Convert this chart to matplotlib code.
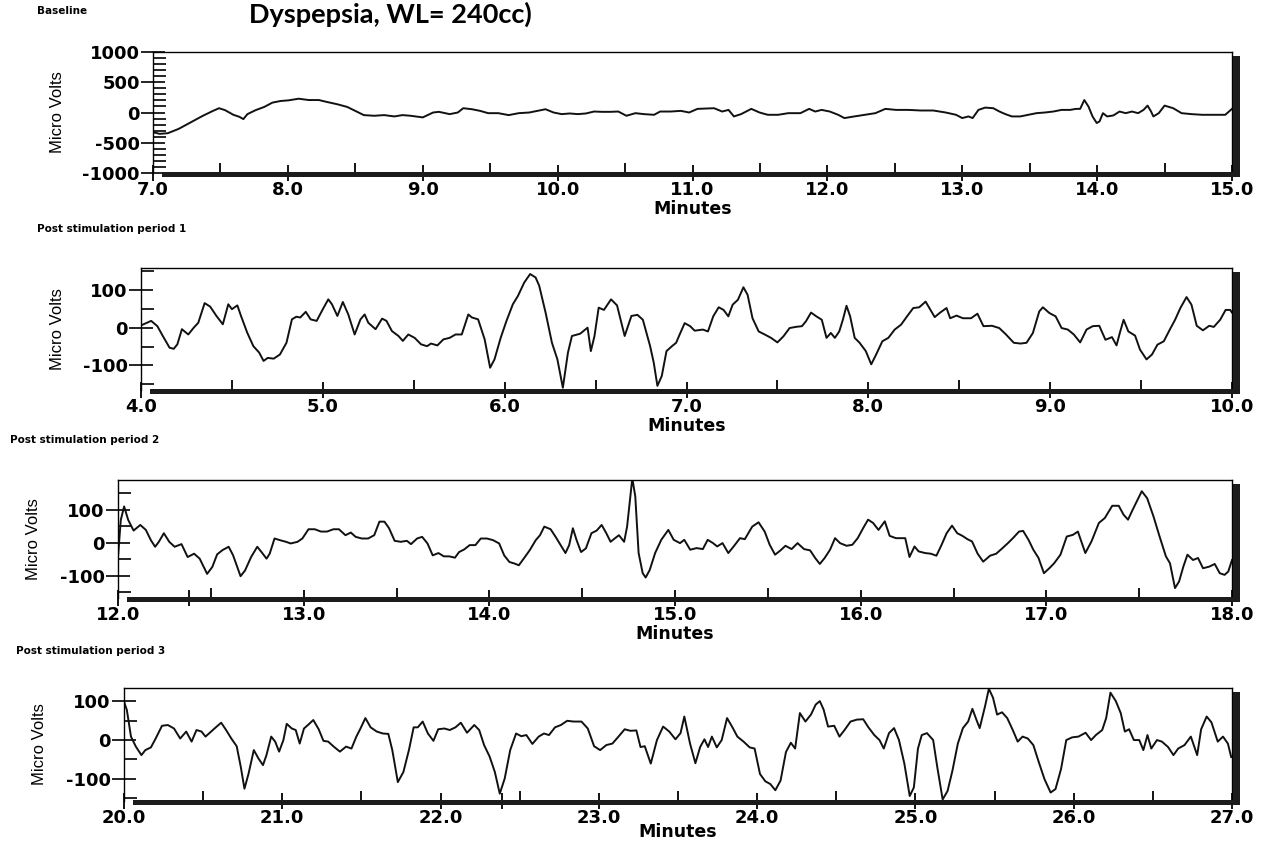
import matplotlib
matplotlib.use('Agg')
import matplotlib.pyplot as plt
from matplotlib.patches import Rectangle
from matplotlib.ticker import FixedLocator, FuncFormatter

matplotlib.rcParams['axes.unicode_minus'] = False
matplotlib.rcParams['font.family'] = ['DejaVu Sans']
matplotlib.rcParams['font.weight'] = 'bold'

LARGEUR, HAUTEUR = 1267, 841

# ============================================================
# DONNEES : (minutes, micro volts) relues sur la figure
# ============================================================
BASELINE = [
    (7.0, -326), (7.05, -353), (7.11, -342), (7.19, -271), (7.28, -163), (7.37, -54), (7.445, 27), (7.49, 71),
    (7.535, 38), (7.596, -38), (7.64, -71), (7.67, -109), (7.70, -27), (7.76, 38), (7.825, 92), (7.885, 163),
    (7.945, 190), (8.005, 201), (8.08, 228), (8.155, 206), (8.23, 206), (8.29, 174), (8.367, 136), (8.44, 92),
    (8.5, 27), (8.563, -43), (8.64, -54), (8.714, -43), (8.79, -65), (8.85, -43), (8.91, -54), (9.0, -81),
    (9.077, 0), (9.12, 11), (9.2, -27), (9.26, 0), (9.30, 71), (9.365, 54), (9.425, 27), (9.485, -11),
    (9.56, -11), (9.637, -43), (9.712, -11), (9.79, 0), (9.85, 27), (9.91, 54), (9.97, 0), (10.03, -27),
    (10.09, -16), (10.15, -27), (10.21, -16), (10.27, 16), (10.33, 11), (10.39, 11), (10.45, 16), (10.51, -54),
    (10.577, -11), (10.64, -27), (10.715, -38), (10.76, 16), (10.837, 16), (10.914, 27), (10.975, 0), (11.037, 60),
    (11.16, 71), (11.22, 16), (11.267, 43), (11.307, -65), (11.36, -27), (11.436, 60), (11.497, 0), (11.558, -38),
    (11.635, -38), (11.71, -11), (11.8, -11), (11.865, 60), (11.91, 16), (11.957, 43), (12.018, 16), (12.08, -38),
    (12.126, -92), (12.2, -65), (12.28, -38), (12.356, -11), (12.43, 60), (12.51, 43), (12.6, 43), (12.693, 33),
    (12.785, 33), (12.877, 0), (12.954, -38), (13.0, -92), (13.046, -65), (13.077, -92), (13.12, 43), (13.17, 81),
    (13.23, 71), (13.276, 16), (13.32, -27), (13.368, -65), (13.43, -65), (13.49, -38), (13.55, -11), (13.613, 0),
    (13.675, 16), (13.736, 43), (13.8, 43), (13.843, 60), (13.874, 60), (13.905, 206), (13.936, 98), (13.966, -65),
    (13.997, -174), (14.018, -147), (14.043, -11), (14.074, -65), (14.12, -49), (14.166, 16), (14.212, -11),
    (14.258, 16), (14.304, -11), (14.344, 43), (14.374, 114), (14.4, 16), (14.417, -65), (14.457, -11), (14.5, 114),
    (14.564, 71), (14.626, -11), (14.7, -27), (14.78, -38), (14.87, -38), (14.95, -38), (15.0, 60),
]

PERIODE_1 = [
    (4.0, 6), (4.056, 18), (4.09, 4), (4.12, -22), (4.157, -53), (4.18, -56), (4.20, -44), (4.225, -4),
    (4.247, -13), (4.26, -18), (4.29, 0), (4.315, 13), (4.35, 65), (4.38, 56), (4.415, 31), (4.45, 9),
    (4.48, 62), (4.50, 49), (4.53, 59), (4.55, 31), (4.584, -13), (4.618, -49), (4.65, -66), (4.674, -88),
    (4.697, -80), (4.73, -82), (4.764, -71), (4.80, -40), (4.83, 22), (4.854, 29), (4.876, 27), (4.906, 42),
    (4.933, 22), (4.966, 18), (5.0, 49), (5.03, 75), (5.05, 62), (5.08, 31), (5.11, 68), (5.14, 35),
    (5.175, -18), (5.207, 22), (5.23, 35), (5.25, 13), (5.29, -4), (5.326, 24), (5.35, 18), (5.38, -9),
    (5.416, -22), (5.44, -35), (5.47, -18), (5.505, -27), (5.54, -44), (5.573, -49), (5.595, -42), (5.63, -47),
    (5.663, -31), (5.697, -27), (5.73, -18), (5.764, -18), (5.80, 35), (5.82, 27), (5.854, 22), (5.89, -31),
    (5.92, -106), (5.944, -84), (5.978, -27), (6.01, 18), (6.045, 62), (6.073, 84), (6.107, 119), (6.14, 142),
    (6.17, 133), (6.19, 111), (6.225, 40), (6.26, -40), (6.29, -84), (6.32, -159), (6.348, -66), (6.37, -22),
    (6.415, -16), (6.456, 0), (6.474, -62), (6.494, -22), (6.517, 53), (6.546, 47), (6.585, 75), (6.618, 59),
    (6.66, -22), (6.697, 31), (6.73, 34), (6.76, 21), (6.80, -49), (6.82, -93), (6.84, -154), (6.864, -128),
    (6.89, -62), (6.92, -49), (6.943, -40), (6.966, -14), (6.99, 12), (7.02, 4), (7.045, -8), (7.09, -5),
    (7.118, -10), (7.147, 30), (7.177, 54), (7.204, 47), (7.23, 30), (7.254, 61), (7.283, 74), (7.313, 107),
    (7.336, 87), (7.363, 25), (7.397, -10), (7.43, -18), (7.465, -27), (7.50, -39), (7.533, -23), (7.567, -1),
    (7.60, 2), (7.635, 4), (7.657, 17), (7.685, 40), (7.714, 30), (7.744, 21), (7.77, -27), (7.794, -14),
    (7.816, -27), (7.84, -10), (7.86, 21), (7.88, 58), (7.90, 30), (7.925, -27), (7.952, -40), (7.986, -62),
    (8.016, -97), (8.043, -71), (8.077, -36), (8.11, -27), (8.145, -5), (8.18, 8), (8.213, 30), (8.247, 52),
    (8.28, 54), (8.315, 69), (8.342, 47), (8.365, 28), (8.395, 40), (8.43, 52), (8.45, 25), (8.485, 32),
    (8.52, 25), (8.565, 25), (8.6, 37), (8.633, 4), (8.68, 5), (8.72, -1), (8.757, -18), (8.80, -40),
    (8.837, -42), (8.87, -40), (8.905, -14), (8.94, 43), (8.96, 54), (8.995, 39), (9.03, 30), (9.063, -1),
    (9.097, -5), (9.13, -18), (9.165, -39), (9.2, -5), (9.234, 4), (9.27, 5), (9.304, -32), (9.34, -25),
    (9.365, -47), (9.383, -14), (9.404, 21), (9.43, -10), (9.467, -21), (9.494, -58), (9.53, -84), (9.56, -71),
    (9.59, -45), (9.625, -36), (9.658, -5), (9.687, 21), (9.716, 52), (9.75, 81), (9.777, 61), (9.806, 5),
    (9.84, -7), (9.875, 5), (9.9, 2), (9.935, 21), (9.965, 47), (9.99, 47), (10.0, 40),
]

PERIODE_2 = [
    (12.0, -43), (12.015, 69), (12.033, 110), (12.055, 69), (12.084, 37), (12.12, 54), (12.15, 39), (12.177, 8),
    (12.2, -12), (12.22, 3), (12.247, 29), (12.276, 3), (12.305, -12), (12.342, -4), (12.375, -43), (12.41, -33),
    (12.44, -48), (12.48, -94), (12.508, -73), (12.534, -35), (12.563, -22), (12.596, -12), (12.62, -38),
    (12.66, -101), (12.684, -84), (12.717, -43), (12.75, -12), (12.773, -28), (12.8, -48), (12.817, -33),
    (12.843, 13), (12.872, 8), (12.905, 3), (12.93, -2), (12.967, 3), (12.993, 13), (13.026, 41), (13.06, 41),
    (13.093, 34), (13.126, 34), (13.16, 41), (13.19, 41), (13.225, 23), (13.254, 31), (13.28, 18), (13.313, 13),
    (13.347, 13), (13.38, 23), (13.408, 64), (13.435, 64), (13.46, 44), (13.49, 6), (13.523, 3), (13.556, 6),
    (13.578, -4), (13.611, 13), (13.638, 18), (13.667, -2), (13.695, -38), (13.726, -31), (13.755, -41),
    (13.784, -41), (13.815, -45), (13.837, -28), (13.865, -20), (13.894, -7), (13.925, -7), (13.954, 13),
    (13.987, 13), (14.02, 8), (14.053, -2), (14.08, -38), (14.108, -58), (14.137, -63), (14.159, -68),
    (14.185, -48), (14.218, -22), (14.25, 8), (14.273, 23), (14.296, 49), (14.33, 41), (14.357, 18),
    (14.384, -7), (14.41, -31), (14.43, -7), (14.45, 44), (14.47, 8), (14.494, -28), (14.52, -17), (14.55, 29),
    (14.578, 37), (14.605, 54), (14.63, 29), (14.653, 3), (14.675, 13), (14.698, 23), (14.726, 3), (14.742, 49),
    (14.76, 141), (14.77, 195), (14.786, 141), (14.804, -31), (14.826, -92), (14.842, -105), (14.864, -82),
    (14.893, -31), (14.926, 9), (14.964, 39), (14.993, 9), (15.027, -1), (15.05, 9), (15.082, -21),
    (15.116, -16), (15.15, -19), (15.176, 9), (15.205, -1), (15.227, -11), (15.256, -1), (15.287, -31),
    (15.316, -11), (15.35, 14), (15.376, 11), (15.416, 49), (15.45, 62), (15.483, 34), (15.51, -6),
    (15.539, -36), (15.568, -23), (15.595, -9), (15.628, -19), (15.66, -1), (15.695, -19), (15.728, -23),
    (15.755, -46), (15.78, -64), (15.806, -46), (15.835, -21), (15.862, 14), (15.889, -1), (15.924, -9),
    (15.955, -6), (15.984, 14), (16.013, 44), (16.04, 70), (16.067, 60), (16.096, 39), (16.13, 65),
    (16.156, 21), (16.19, 14), (16.24, 14), (16.263, -43), (16.29, -11), (16.312, -26), (16.347, -31),
    (16.378, -33), (16.408, -39), (16.436, -6), (16.463, 29), (16.492, 52), (16.52, 29), (16.548, 21),
    (16.575, 11), (16.6, 4), (16.63, -33), (16.66, -57), (16.697, -39), (16.73, -33), (16.764, -16),
    (16.793, -1), (16.82, 14), (16.853, 34), (16.875, 36), (16.904, 9), (16.93, -21), (16.958, -46),
    (16.987, -92), (17.016, -77), (17.042, -62), (17.076, -36), (17.11, 19), (17.143, 24), (17.17, 34),
    (17.21, -31), (17.243, 4), (17.283, 60), (17.315, 75), (17.355, 112), (17.39, 112), (17.416, 85),
    (17.44, 70), (17.465, 100), (17.514, 156), (17.543, 135), (17.577, 80), (17.61, 19), (17.644, -41),
    (17.666, -62), (17.693, -137), (17.715, -117), (17.738, -72), (17.76, -36), (17.79, -52), (17.817, -46),
    (17.844, -77), (17.878, -72), (17.907, -64), (17.934, -92), (17.96, -97), (17.98, -87), (18.0, -52),
]

PERIODE_3 = [
    (20.0, 100), (20.018, 78), (20.044, 9), (20.075, -17), (20.11, -39), (20.135, -26), (20.17, -19), (20.2, 4),
    (20.24, 37), (20.277, 39), (20.316, 30), (20.355, 4), (20.393, 22), (20.427, -4), (20.458, 26), (20.49, 22),
    (20.515, 9), (20.55, 22), (20.58, 33), (20.614, 45), (20.645, 26), (20.678, 4), (20.712, -16), (20.738, -70),
    (20.761, -126), (20.787, -87), (20.82, -26), (20.85, -48), (20.878, -65), (20.9, -39), (20.93, 9),
    (20.955, -4), (20.98, -30), (21.007, 0), (21.028, 42), (21.06, 30), (21.085, 26), (21.11, -9), (21.137, 30),
    (21.162, 39), (21.196, 52), (21.23, 28), (21.26, -2), (21.29, -4), (21.325, -17), (21.364, -30),
    (21.403, -17), (21.437, -22), (21.468, 9), (21.494, 30), (21.525, 57), (21.558, 33), (21.597, 22),
    (21.636, 17), (21.67, 16), (21.695, -26), (21.73, -109), (21.765, -83), (21.8, -26), (21.83, 33),
    (21.856, 33), (21.887, 48), (21.92, 17), (21.955, -2), (21.985, 28), (22.024, 30), (22.058, 26),
    (22.094, 33), (22.128, 45), (22.167, 19), (22.213, 39), (22.244, 26), (22.275, -13), (22.31, -43),
    (22.343, -83), (22.374, -139), (22.405, -100), (22.44, -26), (22.477, 17), (22.51, 10), (22.542, 13),
    (22.58, -10), (22.62, 9), (22.653, 17), (22.685, 13), (22.723, 33), (22.76, 39), (22.8, 50), (22.84, 48),
    (22.89, 48), (22.93, 30), (22.97, -16), (23.008, -26), (23.047, -13), (23.086, -9), (23.124, 9),
    (23.163, 28), (23.2, 24), (23.237, 25), (23.263, -18), (23.29, -16), (23.328, -61), (23.367, 0),
    (23.406, 35), (23.445, 22), (23.484, 2), (23.516, 18), (23.54, 61), (23.576, -9), (23.61, -60),
    (23.64, -18), (23.667, 2), (23.69, -18), (23.714, 9), (23.745, -19), (23.776, 0), (23.81, 57),
    (23.844, 33), (23.875, 9), (23.914, -4), (23.953, -19), (23.984, -22), (24.018, -88), (24.052, -107),
    (24.083, -114), (24.115, -130), (24.148, -105), (24.182, -31), (24.213, -7), (24.24, -22), (24.27, 70),
    (24.305, 48), (24.34, 66), (24.37, 92), (24.396, 101), (24.42, 79), (24.448, 35), (24.487, 37), (24.52, 9),
    (24.552, 26), (24.59, 48), (24.63, 53), (24.67, 54), (24.703, 33), (24.74, 13), (24.773, 0), (24.8, -22),
    (24.833, 18), (24.865, 31), (24.896, 0), (24.93, -61), (24.964, -145), (24.99, -123), (25.016, -22),
    (25.04, 13), (25.073, 18), (25.112, 0), (25.138, -70), (25.172, -154), (25.203, -132), (25.234, -79),
    (25.268, -9), (25.3, 31), (25.333, 48), (25.36, 81), (25.385, 53), (25.406, 31), (25.44, 88),
    (25.464, 133), (25.49, 110), (25.516, 66), (25.547, 72), (25.58, 57), (25.615, 26), (25.646, -4),
    (25.677, 9), (25.71, 4), (25.745, -13), (25.776, -53), (25.815, -101), (25.854, -136), (25.885, -127),
    (25.92, -75), (25.953, 0), (25.99, 7), (26.03, 9), (26.075, 19), (26.11, 0), (26.14, 13), (26.18, 26),
    (26.205, 57), (26.232, 123), (26.266, 101), (26.297, 70), (26.323, 22), (26.35, 28), (26.38, 0),
    (26.414, 0), (26.44, -26), (26.466, 13), (26.49, -22), (26.526, 0), (26.557, -4), (26.596, -18),
    (26.63, -39), (26.66, -22), (26.7, -13), (26.74, 9), (26.78, -39), (26.805, 28), (26.84, 61), (26.87, 46),
    (26.91, -4), (26.943, 9), (26.974, -9), (26.995, -44),
]

TITRE = "Dyspepsia, WL= 240cc)"
SOUS_TITRES = ["Baseline", "Post stimulation period 1", "Post stimulation period 2", "Post stimulation period 3"]


def format_minutes(v, pos):
    # seules les minutes entieres portent une etiquette
    if abs(v - round(v)) < 1e-6:
        return f'{v:.1f}'
    return ''


def ombre(fig, ax):
    """Barres epaisses en bas et a droite du cadre."""
    b = ax.get_position()
    px, py = 1 / LARGEUR, 1 / HAUTEUR
    fig.add_artist(Rectangle((b.x0 + 9 * px, b.y0 - 3.5 * py), b.width - 1 * px, 5 * py,
                             transform=fig.transFigure, color='#1c1c1c', lw=0))
    fig.add_artist(Rectangle((b.x1 + 1 * px, b.y0 - 3.5 * py), 6.5 * px, b.height - 0.5 * py,
                             transform=fig.transFigure, color='#1c1c1c', lw=0))


def panneau(fig, cadre_px, donnees, xlim, ylim, y_major, y_minor, x_extra=(), label_x=57, pad_minutes=0.5):
    gauche, haut, droite, bas = cadre_px
    rect = [gauche / LARGEUR, 1 - bas / HAUTEUR, (droite - gauche) / LARGEUR, (bas - haut) / HAUTEUR]
    ax = fig.add_axes(rect)

    minutes, uv = zip(*donnees)
    ax.plot(minutes, uv, color='#111111', linewidth=1.4)

    ax.set_xlim(*xlim)
    ax.set_ylim(*ylim)

    debut, fin = int(xlim[0]), int(xlim[1])
    ax.xaxis.set_major_locator(FixedLocator(sorted(list(range(debut, fin + 1)) + list(x_extra))))
    ax.xaxis.set_major_formatter(FuncFormatter(format_minutes))
    ax.xaxis.set_minor_locator(FixedLocator([m + 0.5 for m in range(debut, fin)]))
    ax.yaxis.set_major_locator(FixedLocator(y_major))
    ax.yaxis.set_minor_locator(FixedLocator(y_minor))

    ax.tick_params(axis='x', which='major', direction='inout', length=11, width=1.3, pad=0.5, labelsize=13)
    ax.tick_params(axis='x', which='minor', direction='in', length=7, width=1.3)
    ax.tick_params(axis='y', which='major', direction='inout', length=17, width=1.2, pad=1, labelsize=13)
    ax.tick_params(axis='y', which='minor', direction='in', length=9, width=1.2)

    for cote in ['top', 'left', 'right']:
        ax.spines[cote].set_linewidth(1.0)
    ax.spines['bottom'].set_visible(False)

    ax.set_xlabel('Minutes', fontsize=12.5, fontweight='bold', labelpad=pad_minutes)
    fig.text(label_x / LARGEUR, 1 - (haut + bas) / 2 / HAUTEUR, 'Micro Volts', rotation=90,
             ha='center', va='center', fontsize=12, fontweight='normal',
             family=['Liberation Sans', 'DejaVu Sans'])
    ombre(fig, ax)
    return ax


fig = plt.figure(figsize=(LARGEUR / 100, HAUTEUR / 100), dpi=100)
fig.patch.set_facecolor('white')

panneau(fig, (153, 52, 1232, 173), BASELINE, (7, 15), (-1000, 1000),
        [-1000, -500, 0, 500, 1000], [v for v in range(-900, 1000, 100) if v % 500 != 0], label_x=58)
panneau(fig, (141, 268, 1232, 390), PERIODE_1, (4, 10), (-165, 158),
        [-100, 0, 100], [-150, -50, 50, 150], label_x=58)
panneau(fig, (118, 480, 1232, 598), PERIODE_2, (12, 18), (-167, 190),
        [-100, 0, 100], [-150, -50, 50, 150], x_extra=[12.38], label_x=34)
panneau(fig, (124, 688, 1232, 801), PERIODE_3, (20, 27), (-158, 135),
        [-100, 0, 100], [-150, -50, 50], x_extra=[22.39], label_x=39, pad_minutes=-3)

# Titre (coupe en haut dans l'original)
fig.text(390 / LARGEUR, 1 - 22.5 / HAUTEUR, TITRE, ha='center', va='baseline',
         fontsize=19.5, fontweight='bold', family=['Lato', 'DejaVu Sans'])

# Petits sous-titres
positions = [(37, 11), (37, 229), (10, 440), (16, 651)]
for texte, (x, y) in zip(SOUS_TITRES, positions):
    fig.text(x / LARGEUR, 1 - y / HAUTEUR, texte, ha='left', va='center', fontsize=7.5, fontweight='heavy')

fig.savefig('out.png', dpi=100)
